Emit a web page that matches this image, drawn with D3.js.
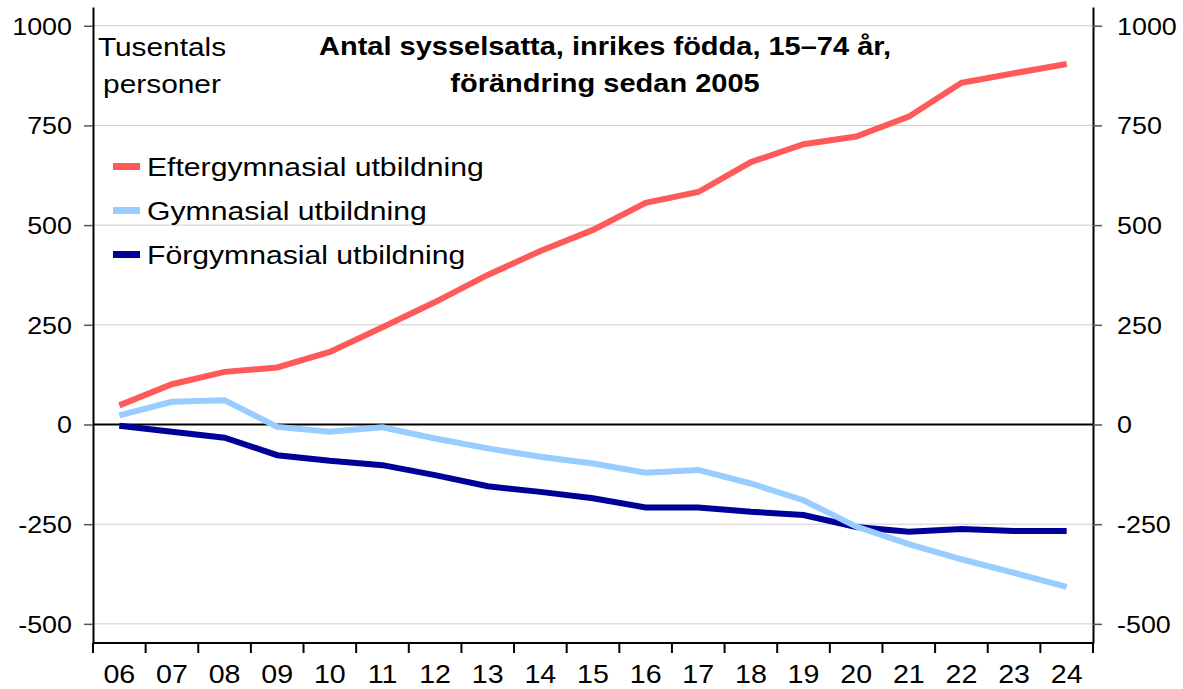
<!DOCTYPE html>
<html><head><meta charset="utf-8">
<script src="https://cdn.jsdelivr.net/npm/d3@7"></script>
<style>body{margin:0;background:#fff;} svg{display:block;font-family:"Liberation Sans",Arial,sans-serif;}</style>
</head><body><svg id="c" width="1183" height="689"></svg>
<script>
const years = ["06","07","08","09","10","11","12","13","14","15","16","17","18","19","20","21","22","23","24"];
const efter = [48,101,132,143,182,244,307,375,435,488,556,583,658,703,722,772,857,881,904];
const gymn = [23,57,61,-6,-18,-7,-35,-60,-81,-98,-121,-114,-148,-190,-256,-300,-338,-372,-407];
const forg = [-3,-18,-33,-77,-91,-102,-127,-155,-169,-185,-208,-208,-219,-227,-257,-269,-262,-267,-267];
const yTicks = [-500,-250,0,250,500,750,1000];
const seriesNames = ["Eftergymnasial utbildning","Gymnasial utbildning","Förgymnasial utbildning"];
const colors = ["#ff5a5a","#99ccff","#000099"];
const titleLines = ["Antal sysselsatta, inrikes födda, 15–74 år,","förändring sedan 2005"];
const unitLines = ["Tusentals","personer"];

const svg = d3.select("#c");
const L = 93, R = 1093, T = 7, B = 643;
const x = d3.scaleBand().domain(years).range([L, R]).padding(0);
const y = d3.scaleLinear().domain([-548, 1047]).range([B, T]);
const fmt = d => String(d);

function stext(g, data, opts) {
  return g.selectAll(null).data(data).join("text")
    .attr("transform", (d, i) => `translate(${opts.x(d, i)},${opts.y(d, i)}) scale(${opts.sx},1)`)
    .attr("text-anchor", opts.anchor || "start")
    .attr("font-size", opts.size)
    .attr("font-weight", opts.weight || "normal")
    .attr("fill", "#000")
    .text(opts.text || (d => d));
}

// gridlines
svg.append("g").selectAll("line").data(yTicks.filter(d => d !== 0)).join("line")
  .attr("x1", L).attr("x2", R).attr("y1", d => y(d)).attr("y2", d => y(d))
  .attr("stroke", "#cccccc").attr("stroke-width", 1);

// left / right axes
const ga = svg.append("g").attr("transform", `translate(${L},0)`)
  .call(d3.axisLeft(y).tickValues(yTicks).tickSize(9).tickSizeOuter(0).tickFormat(""));
const gb = svg.append("g").attr("transform", `translate(${R},0)`)
  .call(d3.axisRight(y).tickValues(yTicks).tickSize(9).tickSizeOuter(0).tickFormat(""));
[ga, gb].forEach(g => {
  g.select(".domain").attr("stroke", "#000").attr("stroke-width", 2);
  g.selectAll(".tick line").attr("stroke", "#555").attr("stroke-width", 1.5);
});
stext(svg.append("g"), yTicks, {x: () => 72, y: d => y(d) + 9, sx: 1.12, size: 24, anchor: "end", text: fmt});
stext(svg.append("g"), yTicks, {x: () => 1117, y: d => y(d) + 9, sx: 1.12, size: 24, anchor: "start", text: fmt});

// bottom axis
svg.append("line").attr("x1", L).attr("x2", R).attr("y1", B).attr("y2", B)
  .attr("stroke", "#000").attr("stroke-width", 2);
const bounds = years.map(d => x(d)).concat([R]);
svg.append("g").selectAll("line").data(bounds).join("line")
  .attr("x1", d => d).attr("x2", d => d).attr("y1", B).attr("y2", B + 10)
  .attr("stroke", "#000").attr("stroke-width", 2);
stext(svg.append("g"), years, {x: d => x(d) + x.bandwidth() / 2, y: () => 683, sx: 1.1, size: 26, anchor: "middle"});

// zero line
svg.append("line").attr("x1", L).attr("x2", R).attr("y1", y(0)).attr("y2", y(0))
  .attr("stroke", "#000").attr("stroke-width", 2);

// lines
const line = d3.line().x((d, i) => x(years[i]) + x.bandwidth() / 2).y(d => y(d));
[[efter, 0], [forg, 2], [gymn, 1]].forEach(([s, ci]) => {
  svg.append("path").datum(s).attr("d", line).attr("fill", "none")
    .attr("stroke", colors[ci]).attr("stroke-width", 6).attr("stroke-linejoin", "miter");
});

// titles
stext(svg.append("g"), titleLines, {x: () => 605, y: (d, i) => 55 + i * 37, sx: 1.16, size: 25, weight: "bold", anchor: "middle"});
stext(svg.append("g"), unitLines, {x: () => 162, y: (d, i) => 56 + i * 37, sx: 1.17, size: 25.5, anchor: "middle"});

// legend
const lg = svg.append("g");
seriesNames.forEach((n, i) => {
  const cy = 166.5 + i * 44;
  lg.append("line").attr("x1", 113).attr("x2", 140).attr("y1", cy).attr("y2", cy)
    .attr("stroke", colors[i]).attr("stroke-width", 7);
});
stext(lg, seriesNames, {x: () => 147, y: (d, i) => 166.5 + i * 44 + 9, sx: 1.16, size: 26, anchor: "start"});
</script></body></html>
